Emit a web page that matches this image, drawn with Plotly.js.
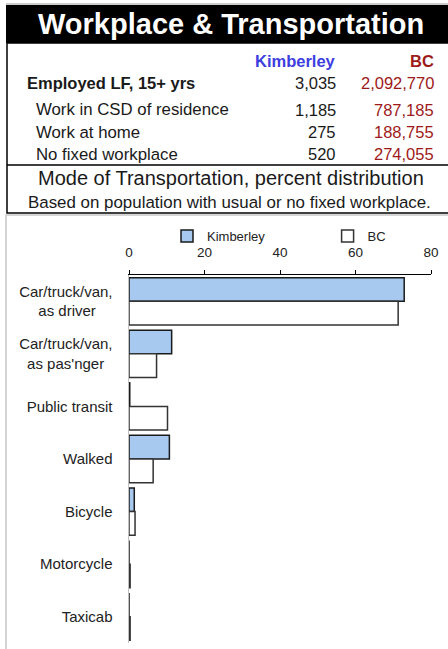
<!DOCTYPE html>
<html>
<head>
<meta charset="utf-8">
<script src="https://cdn.plot.ly/plotly-3.0.1.min.js"></script>
<style>
html,body{margin:0;padding:0;background:#fff;}
#chart{width:448px;height:649px;}
</style>
</head>
<body>
<div id="chart"></div>
<script>
// ---- Data ----
const NB = "\u00a0";
const categories = [
  "Car/truck/van,<br>as driver" + NB.repeat(4),
  "Car/truck/van,<br>as pas'nger" + NB.repeat(2),
  "Public transit",
  "Walked",
  "Bicycle",
  "Motorcycle",
  "Taxicab"
];
const kimberleyPct = [72.9, 11.3, 0.2, 10.7, 1.4, 0, 0];
const bcPct = [71.3, 7.3, 10.2, 6.4, 1.6, 0.3, 0.3];
const seriesNames = ["Kimberley", "BC"];

const tableTitle = "Workplace & Transportation";
const tableRowLabels = ["Employed LF, 15+ yrs", "Work in CSD of residence", "Work at home", "No fixed workplace"];
const kimberleyCounts = ["3,035", "1,185", "275", "520"];
const bcCounts = ["2,092,770", "787,185", "188,755", "274,055"];
const chartTitle = "Mode of Transportation, percent distribution";
const chartSubtitle = "Based on population with usual or no fixed workplace.";
const xTickVals = [0, 20, 40, 60, 80];

// ---- Layout helpers (pixel -> paper) ----
const W = 448, H = 649, L = 129, R = 431, T = 275, B = 643;
const X = p => (p - L) / (R - L);
const Y = p => (B - p) / (B - T);
const FONT = "Arial, 'Liberation Sans', sans-serif";
const BLUE = "#3d3de0";
const RED = "#9e1a1a";

const traces = [
  {
    type: "bar", orientation: "h", name: seriesNames[0] + NB.repeat(16),
    y: categories, x: kimberleyPct,
    marker: {color: "#a7c8ef", line: {color: "#1a1a1a", width: 1.5}},
    hoverinfo: "x+y"
  },
  {
    type: "bar", orientation: "h", name: seriesNames[1],
    y: categories, x: bcPct,
    marker: {color: "#ffffff", line: {color: "#333333", width: 1.5}},
    hoverinfo: "x+y"
  }
];

const annotations = [];
function ann(text, x, y, anchor, size, color, bold) {
  annotations.push({
    text: bold ? "<b>" + text + "</b>" : text,
    xref: "paper", yref: "paper", x: X(x), y: Y(y),
    xanchor: anchor, yanchor: "middle", showarrow: false,
    font: {family: FONT, size: size, color: color}
  });
}
ann(tableTitle, 230.5, 24, "center", 29, "#ffffff", true);
ann("Kimberley", 338, 61, "right", 16.5, BLUE, true);
ann("BC", 436, 61, "right", 16.5, RED, true);
const rowY = [83, 110, 132, 154];
tableRowLabels.forEach((lab, i) => {
  ann(lab, i === 0 ? 25 : 34, rowY[i], "left", i === 0 ? 16.5 : 16.8, "#1a1a1a", i === 0);
  ann(kimberleyCounts[i], 338, rowY[i], "right", 16.5, "#1a1a1a", false);
  ann(bcCounts[i], 436, rowY[i], "right", 16.5, RED, false);
});
ann(chartTitle, 231, 178, "center", 20, "#1a1a1a", false);
ann(chartSubtitle, 229.5, 202, "center", 16.9, "#1a1a1a", false);

const shapes = [
  {type: "rect", xref: "paper", yref: "paper", x0: X(6), x1: X(452), y0: Y(5), y1: Y(43),
   fillcolor: "#000000", line: {width: 0}},
  {type: "line", xref: "paper", yref: "paper", x0: X(6), x1: X(452), y0: Y(4), y1: Y(4),
   line: {color: "#999999", width: 1}},
  {type: "rect", xref: "paper", yref: "paper", x0: X(7), x1: X(452), y0: Y(43), y1: Y(213),
   line: {color: "#000000", width: 1.5}},
  {type: "line", xref: "paper", yref: "paper", x0: X(7), x1: X(452), y0: Y(165), y1: Y(165),
   line: {color: "#000000", width: 1.5}},
  {type: "rect", xref: "paper", yref: "paper", x0: X(6), x1: X(455), y0: Y(215), y1: Y(655),
   line: {color: "#c8c8c8", width: 1.5}}
];

const layout = {
  width: W, height: H,
  margin: {l: L, r: W - R, t: T, b: H - B, pad: 0},
  paper_bgcolor: "#ffffff", plot_bgcolor: "#ffffff",
  font: {family: FONT, color: "#1a1a1a"},
  barmode: "group", bargap: 0.1, bargroupgap: 0,
  showlegend: true,
  legend: {
    orientation: "h", x: X(167), y: Y(236), xanchor: "left", yanchor: "middle",
    font: {family: FONT, size: 13, color: "#222"},
    bgcolor: "rgba(0,0,0,0)", traceorder: "normal"
  },
  xaxis: {
    side: "top", range: [0, 80], tickvals: xTickVals,
    ticks: "outside", ticklen: 4, tickcolor: "#000", tickwidth: 1,
    showline: true, linecolor: "#000", linewidth: 1.5,
    showgrid: false, zeroline: false,
    tickfont: {family: FONT, size: 13.5, color: "#222"},
    ticklabelstandoff: 7, fixedrange: true
  },
  yaxis: {
    autorange: "reversed", type: "category",
    showline: true, linecolor: "#c0c0c0", linewidth: 1.5,
    showgrid: false, zeroline: false, ticks: "",
    tickfont: {family: FONT, size: 15, color: "#222"},
    ticklabelstandoff: 12, fixedrange: true
  },
  shapes: shapes,
  annotations: annotations
};

Plotly.newPlot("chart", traces, layout, {displayModeBar: false, staticPlot: true});
</script>
</body>
</html>
